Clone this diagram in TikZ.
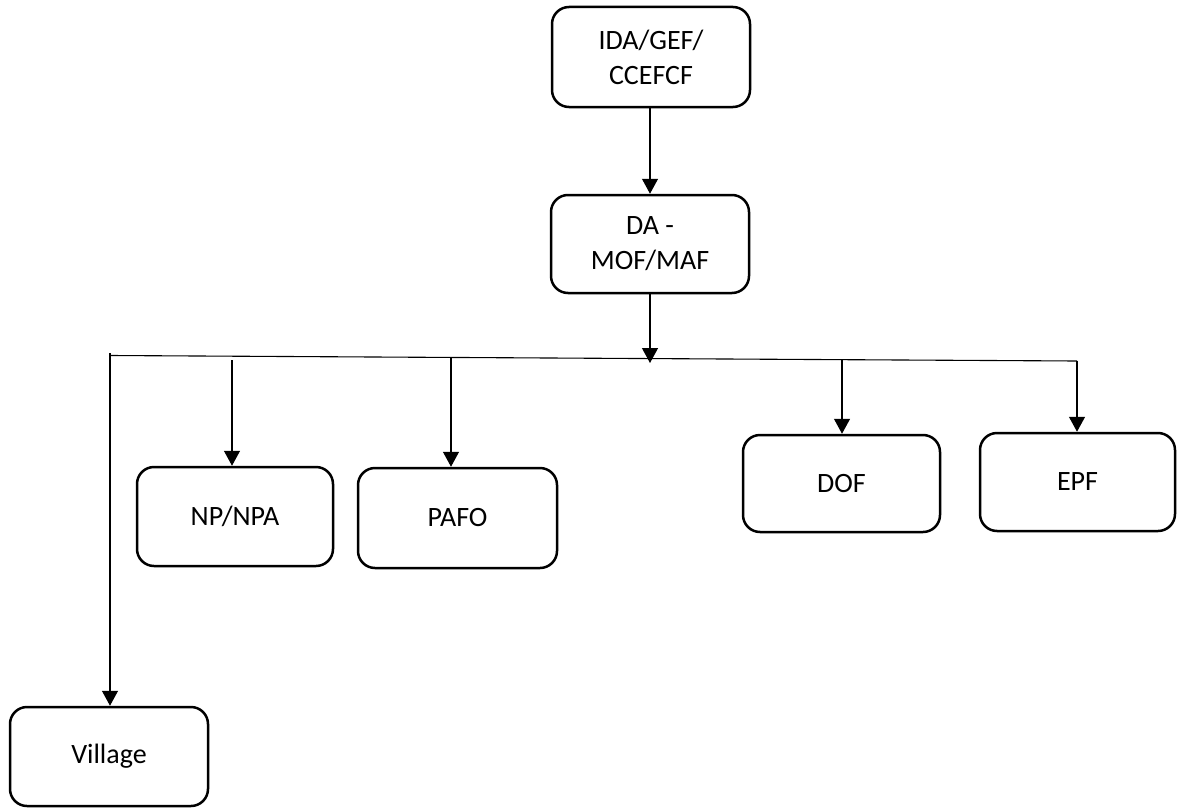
\documentclass[tikz,border=0pt]{standalone}
\usepackage{fontspec}
\setmainfont{Carlito}
\usetikzlibrary{arrows.meta}
\begin{document}
\begin{tikzpicture}[x=1pt,y=-1pt,
  box/.style={draw, line width=2.5pt, rounded corners=17pt, inner sep=0pt,
    align=center, font=\fontsize{28}{35}\selectfont},
  conn/.style={line width=1.3pt, -{Triangle[width=16pt,length=15pt]}},
  bar/.style={line width=1.1pt}]
\useasboundingbox (0,0) rectangle (1177,808);
\node[box, minimum width=198pt, minimum height=100pt] (ida) at (651,57) {IDA/GEF/\\CCEFCF};
\node[box, minimum width=198pt, minimum height=98pt] (da) at (650,244) {DA -\\MOF/MAF};
\node[box, minimum width=196pt, minimum height=99pt] (np) at (235,516.5) {NP/NPA};
\node[box, minimum width=199pt, minimum height=100pt] (pafo) at (457.5,518) {PAFO};
\node[box, minimum width=197pt, minimum height=97pt] (dof) at (841.5,483.5) {DOF};
\node[box, minimum width=195pt, minimum height=98pt] (epf) at (1077.5,482) {EPF};
\node[box, minimum width=198pt, minimum height=99pt] (village) at (109,756.5) {Village};
\coordinate (hub) at (650,363);
\coordinate (barL) at (110,355.5);
\coordinate (barR) at (1077,361);
\coordinate (vtop) at (110,353);
\coordinate (nptop) at (232,360);
\coordinate (pafotop) at (451,357.5);
\coordinate (doftop) at (842,360);
\draw[conn] (ida.south -| da.north) -- (da.north);
\draw[conn] (da.south) -- (hub);
\draw[bar] (barL) -- (barR);
\draw[conn] (vtop) -- (vtop |- village.north);
\draw[conn] (nptop) -- (nptop |- np.north);
\draw[conn] (pafotop) -- (pafotop |- pafo.north);
\draw[conn] (doftop) -- (doftop |- dof.north);
\draw[conn] (barR) -- (barR |- epf.north);
\end{tikzpicture}
\end{document}
